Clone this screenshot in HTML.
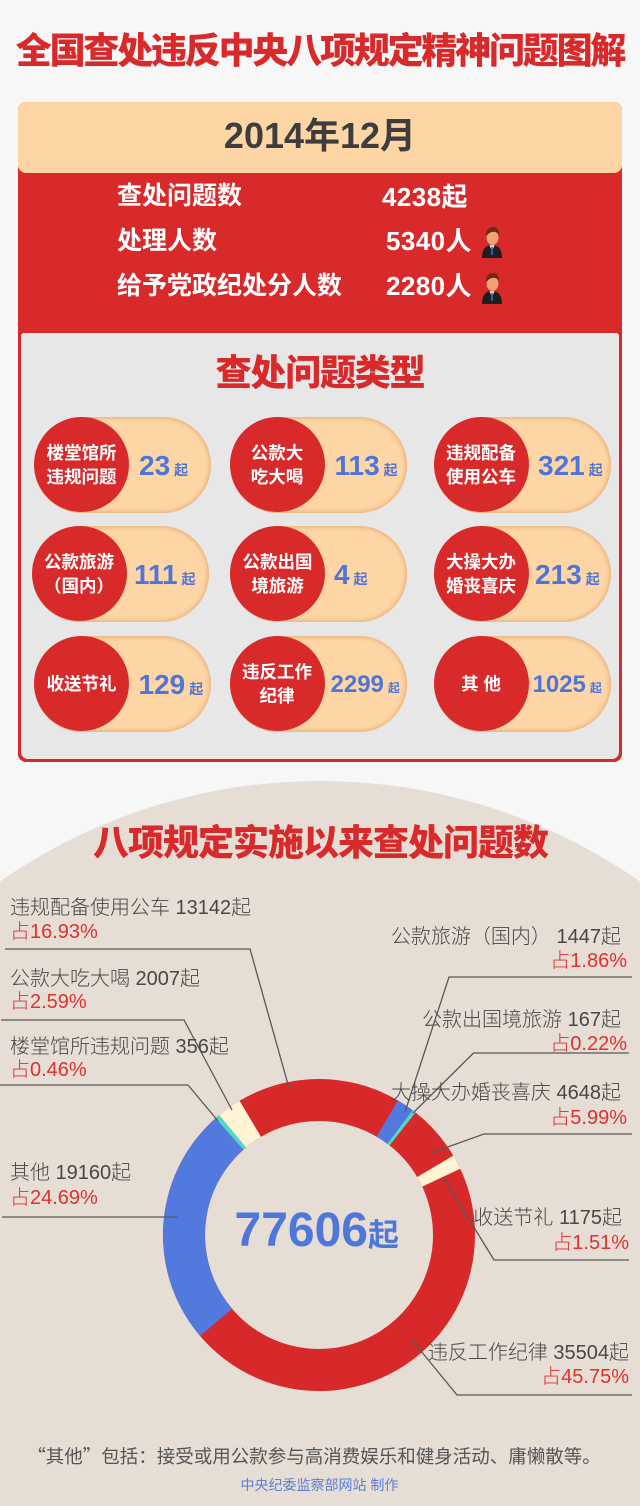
<!DOCTYPE html>
<html>
<head>
<meta charset="utf-8">
<style>
  html,body{margin:0;padding:0;width:640px;height:1506px;overflow:hidden;}
  body{background:#f7f7f7;font-family:"Liberation Sans","Noto Sans CJK SC",sans-serif;}
  #wrap{position:relative;width:640px;height:1506px;overflow:hidden;background:#f7f7f7;}
  .t{position:absolute;white-space:nowrap;line-height:1;}
  .h{font-weight:900;color:#d8292b;}
  .w{color:#fff;font-weight:700;}
  .pill{position:absolute;height:96px;width:177px;border-radius:48px;background:#fed6a6;
        box-shadow:inset 0 0 5px 1px rgba(205,135,70,0.55);}
  .circ{position:absolute;width:95px;height:95px;border-radius:50%;background:#d8292b;
        color:#fff;font-weight:700;font-size:17.5px;line-height:24px;text-align:center;
        display:flex;align-items:center;justify-content:center;white-space:nowrap;}
  .num{position:absolute;white-space:nowrap;color:#4f75d9;font-weight:700;}
  .num small{font-size:14px;margin-left:4px;font-weight:700;}
  .lb{position:absolute;white-space:nowrap;line-height:20px;font-size:20px;color:#474747;font-weight:300;}
  .pc{position:absolute;white-space:nowrap;line-height:20px;font-size:20px;color:#e0302f;font-weight:300;}
  .r{text-align:right;}
</style>
</head>
<body>
<div id="wrap">

<!-- beige chart background -->
<svg style="position:absolute;left:0;top:0;" width="640" height="1506" viewBox="0 0 640 1506">
  <path d="M0 881.4 A560 560 0 0 1 640 881.4 L640 1506 L0 1506 Z" fill="#e6ded5"/>
</svg>

<!-- main title -->
<div class="t h" style="left:0;width:640px;text-align:center;top:33px;font-size:36px;letter-spacing:-2.2px;">全国查处违反中央八项规定精神问题图解</div>

<!-- card -->
<div style="position:absolute;left:18px;top:102px;width:604px;height:660px;background:#d8292b;border-radius:8px;"></div>
<div style="position:absolute;left:18px;top:102px;width:604px;height:71px;background:#fed6a6;border-radius:8px;"></div>
<div style="position:absolute;left:21px;top:333px;width:598px;height:426px;background:#e7e7e7;border-radius:3px 3px 7px 7px;"></div>

<div class="t" style="left:0;width:640px;text-align:center;top:118px;font-size:36px;font-weight:700;color:#3d3d3d;">2014年12月</div>

<div class="t w" style="left:117px;top:184px;font-size:25px;">查处问题数</div>
<div class="t w" style="left:117px;top:228.5px;font-size:25px;">处理人数</div>
<div class="t w" style="left:117px;top:273.5px;font-size:25px;">给予党政纪处分人数</div>

<div class="t w" style="left:382px;top:183.5px;font-size:26px;letter-spacing:0.4px;">4238起</div>
<div class="t w" style="left:386px;top:228px;font-size:26px;letter-spacing:0.4px;">5340人</div>
<div class="t w" style="left:386px;top:273px;font-size:26px;letter-spacing:0.4px;">2280人</div>

<svg style="position:absolute;left:481px;top:227px;" width="22" height="31" viewBox="0 0 22 31">
  <path d="M1 31 C1 22 5 18 11 18 C17 18 21 22 21 31 Z" fill="#1f1f1f"/>
  <path d="M8.5 18.3 L11 24 L13.5 18.3 Z" fill="#fff"/>
  <path d="M10.3 19.5 L11.7 19.5 L12.2 27 L11 28.5 L9.8 27 Z" fill="#2f5bb8"/>
  <ellipse cx="11.5" cy="10.5" rx="6" ry="7.5" fill="#f2a174"/>
  <path d="M5 9.5 C4.5 2 9 0 12 0 C16 0 18.5 3 18 8.5 C16 5 14 4.5 11 5 C8.5 5.5 7 7 5 9.5 Z" fill="#6e2b12"/>
</svg>
<svg style="position:absolute;left:481px;top:273px;" width="22" height="31" viewBox="0 0 22 31">
  <path d="M1 31 C1 22 5 18 11 18 C17 18 21 22 21 31 Z" fill="#1f1f1f"/>
  <path d="M8.5 18.3 L11 24 L13.5 18.3 Z" fill="#fff"/>
  <path d="M10.3 19.5 L11.7 19.5 L12.2 27 L11 28.5 L9.8 27 Z" fill="#2f5bb8"/>
  <ellipse cx="11.5" cy="10.5" rx="6" ry="7.5" fill="#f2a174"/>
  <path d="M5 9.5 C4.5 2 9 0 12 0 C16 0 18.5 3 18 8.5 C16 5 14 4.5 11 5 C8.5 5.5 7 7 5 9.5 Z" fill="#6e2b12"/>
</svg>

<div class="t h" style="left:0;width:640px;text-align:center;top:355px;font-size:36px;letter-spacing:-1.2px;">查处问题类型</div>

<!-- row 1 -->
<div class="pill" style="left:34px;top:417px;"></div>
<div class="circ" style="left:34px;top:417px;">楼堂馆所<br>违规问题</div>
<div class="num" style="left:139px;top:452.3px;font-size:28px;line-height:28px;">23<small>起</small></div>

<div class="pill" style="left:229.5px;top:417px;"></div>
<div class="circ" style="left:229.5px;top:417px;">公款大<br>吃大喝</div>
<div class="num" style="left:334.5px;top:452.3px;font-size:28px;line-height:28px;">113<small>起</small></div>

<div class="pill" style="left:433.5px;top:417px;"></div>
<div class="circ" style="left:433.5px;top:417px;">违规配备<br>使用公车</div>
<div class="num" style="left:538px;top:452.3px;font-size:28px;line-height:28px;">321<small>起</small></div>

<!-- row 2 -->
<div class="pill" style="left:31.5px;top:526px;"></div>
<div class="circ" style="left:31.5px;top:526px;">公款旅游<br>（国内）</div>
<div class="num" style="left:134px;top:561.3px;font-size:28px;line-height:28px;">111<small>起</small></div>

<div class="pill" style="left:230px;top:526px;"></div>
<div class="circ" style="left:230px;top:526px;">公款出国<br>境旅游</div>
<div class="num" style="left:334px;top:561.3px;font-size:28px;line-height:28px;">4<small>起</small></div>

<div class="pill" style="left:433.5px;top:526px;"></div>
<div class="circ" style="left:433.5px;top:526px;">大操大办<br>婚丧喜庆</div>
<div class="num" style="left:535px;top:561.3px;font-size:28px;line-height:28px;">213<small>起</small></div>

<!-- row 3 -->
<div class="pill" style="left:34px;top:636px;"></div>
<div class="circ" style="left:34px;top:636px;">收送节礼</div>
<div class="num" style="left:138.5px;top:671.3px;font-size:28px;line-height:28px;">129<small>起</small></div>

<div class="pill" style="left:229.5px;top:636px;"></div>
<div class="circ" style="left:229.5px;top:636px;">违反工作<br>纪律</div>
<div class="num" style="left:330.5px;top:673.3px;font-size:24px;line-height:24px;">2299<small style="font-size:12px;margin-left:4px;">起</small></div>

<div class="pill" style="left:433.5px;top:636px;"></div>
<div class="circ" style="left:433.5px;top:636px;">其&nbsp;他</div>
<div class="num" style="left:532.5px;top:673.3px;font-size:24px;line-height:24px;">1025<small style="font-size:12px;margin-left:4px;">起</small></div>

<div class="t h" style="left:0;width:641px;text-align:center;top:825px;font-size:36px;letter-spacing:-1px;">八项规定实施以来查处问题数</div>

<!-- donut and leader lines -->
<svg style="position:absolute;left:0;top:0;" width="640" height="1506" viewBox="0 0 640 1506">
  <g transform="rotate(-120.6 319 1235)" fill="none" stroke-width="42">
    <circle cx="319" cy="1235" r="135" stroke="#d8292a"/>
    <circle cx="319" cy="1235" r="135" stroke="#5279dd" stroke-dasharray="15.78 848.23" stroke-dashoffset="-143.61"/>
    <circle cx="319" cy="1235" r="135" stroke="#4dd9c4" stroke-dasharray="3.2 848.23" stroke-dashoffset="-158.9"/>
    <circle cx="319" cy="1235" r="135" stroke="#fff4d4" stroke-dasharray="12.81 848.23" stroke-dashoffset="-212.07"/>
    <circle cx="319" cy="1235" r="135" stroke="#5279dd" stroke-dasharray="209.43 848.23" stroke-dashoffset="-612.95"/>
    <circle cx="319" cy="1235" r="135" stroke="#4dd9c4" stroke-dasharray="4.4 848.23" stroke-dashoffset="-822.1"/>
    <circle cx="319" cy="1235" r="135" stroke="#fff4d4" stroke-dasharray="21.97 848.23" stroke-dashoffset="-826.26"/>
  </g>
  <g fill="none" stroke="#585858" stroke-width="1.3">
    <polyline points="5,949 250,949 289,1088"/>
    <polyline points="1,1020 184,1020 232,1110"/>
    <polyline points="0,1085 188,1085 218,1121"/>
    <polyline points="2,1217 177,1217"/>
    <polyline points="632,977 449,977 405,1112"/>
    <polyline points="629,1053 473.5,1053 413,1113"/>
    <polyline points="632,1134 484,1134 431,1153"/>
    <polyline points="629,1260 494,1260 443,1177"/>
    <polyline points="632,1395 457,1395 412,1340"/>
  </g>
</svg>

<!-- left labels -->
<div class="lb" style="left:10px;top:897.5px;">违规配备使用公车 13142起</div>
<div class="pc" style="left:10px;top:922px;">占16.93%</div>
<div class="lb" style="left:10px;top:969px;">公款大吃大喝 2007起</div>
<div class="pc" style="left:10px;top:992px;">占2.59%</div>
<div class="lb" style="left:10px;top:1037px;">楼堂馆所违规问题 356起</div>
<div class="pc" style="left:10px;top:1060px;">占0.46%</div>
<div class="lb" style="left:10px;top:1163px;">其他 19160起</div>
<div class="pc" style="left:10px;top:1188px;">占24.69%</div>

<!-- right labels -->
<div class="lb r" style="right:19px;top:927px;">公款旅游（国内） 1447起</div>
<div class="pc r" style="right:13px;top:951px;">占1.86%</div>
<div class="lb r" style="right:19px;top:1010px;">公款出国境旅游 167起</div>
<div class="pc r" style="right:13px;top:1034px;">占0.22%</div>
<div class="lb r" style="right:19px;top:1083px;">大操大办婚丧喜庆 4648起</div>
<div class="pc r" style="right:13px;top:1108px;">占5.99%</div>
<div class="lb r" style="right:18px;top:1208px;">收送节礼 1175起</div>
<div class="pc r" style="right:11px;top:1233px;">占1.51%</div>
<div class="lb r" style="right:11px;top:1343px;">违反工作纪律 35504起</div>
<div class="pc r" style="right:11px;top:1367px;">占45.75%</div>

<!-- center total -->
<div class="t" style="left:234.5px;top:1206.5px;font-size:48px;line-height:48px;font-weight:700;color:#4f77db;">77606<span style="font-size:31px;">起</span></div>

<!-- footnotes -->
<div class="t" style="left:0;width:628px;text-align:center;top:1446.5px;font-size:18.5px;color:#555;font-family:'Noto Sans CJK SC','Liberation Sans',sans-serif;">“其他”包括：接受或用公款参与高消费娱乐和健身活动、庸懒散等。</div>
<div class="t" style="left:0;width:639px;text-align:center;top:1478px;font-size:14px;color:#5a7fd6;">中央纪委监察部网站 制作</div>

</div>
</body>
</html>
